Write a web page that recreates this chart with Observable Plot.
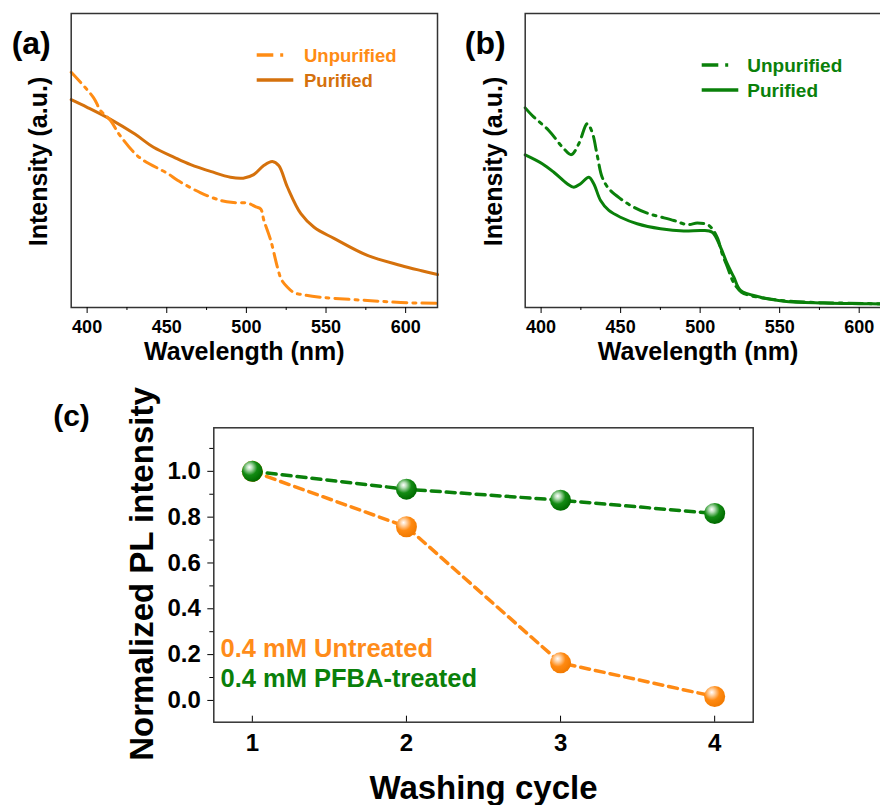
<!DOCTYPE html>
<html><head><meta charset="utf-8">
<script src="https://cdn.jsdelivr.net/npm/d3@7"></script>
<script src="https://cdn.jsdelivr.net/npm/@observablehq/plot@0.6"></script>
<style>
html,body{margin:0;padding:0;background:#fff;overflow:hidden;}
#wrap{position:relative;width:880px;height:805px;overflow:hidden;background:#fff;}
#wrap svg{position:absolute;}
</style></head><body><div id="wrap"></div>
<script>
// ---------- Panel (a) ----------
const aUnpurWl = [390,404,408.4,414.7,420,429.3,435.5,450.5,457,471,484,492,501,506,509,511,515.3,519.5,522,525.8,530,534,545,555,576,597,620];
const aUnpurI  = [0.800,0.714,0.670,0.636,0.590,0.528,0.500,0.456,0.432,0.391,0.364,0.357,0.355,0.342,0.335,0.296,0.228,0.137,0.095,0.069,0.050,0.045,0.036,0.031,0.024,0.017,0.014];
const aPurWl = [390,400,414.7,430,441.7,455,465,478,490,498,504.6,510.9,516.3,520.3,525.8,534.2,542.5,555,576,597,610,620];
const aPurI  = [0.707,0.681,0.640,0.590,0.545,0.510,0.486,0.462,0.443,0.440,0.452,0.483,0.497,0.483,0.409,0.319,0.273,0.235,0.177,0.143,0.125,0.112];
// ---------- Panel (b) ----------
const bUnpurWl = [390,394.4,404.8,414.3,419,423.7,429,432.1,435.3,438.4,442.6,449.9,458.3,466.7,483.5,491.9,498.2,504.5,507.6,511,514,517,521,526,532,546.2,567.4,590,620];
const bUnpurI  = [0.679,0.653,0.602,0.540,0.520,0.557,0.625,0.596,0.517,0.443,0.404,0.370,0.341,0.321,0.296,0.282,0.287,0.282,0.268,0.235,0.180,0.140,0.085,0.052,0.040,0.027,0.018,0.015,0.012];
const bPurWl = [390,400.7,408,416.4,420.6,424.8,430,433.1,437.4,442.6,449.9,460.4,475.1,489.7,501.3,507.6,512.8,517,521.2,525.4,538,552.6,577.8,600,620];
const bPurI  = [0.519,0.489,0.460,0.421,0.409,0.421,0.443,0.421,0.364,0.330,0.307,0.285,0.268,0.260,0.262,0.256,0.205,0.149,0.103,0.058,0.035,0.021,0.015,0.013,0.012];
const wlTicks = [400,450,500,550,600];
const wlMinor = [425,475,525,575];
// ---------- Panel (c) ----------
const cCycle = [1,2,3,4];
const cUntreated = [1.0,0.758,0.164,0.017];
const cTreated = [1.0,0.922,0.874,0.816];
const cYTicks = [0,0.2,0.4,0.6,0.8,1.0];
const cYMinor = [0.1,0.3,0.5,0.7,0.9,1.1];

const FONT = "'Liberation Sans', Arial, Helvetica, sans-serif";
const orangeLight = "#ff8c14", orangeDark = "#d5710c", green = "#0a800a";
const wrap = document.getElementById("wrap");
const zip = (xs, ys) => xs.map((x, i) => ({x, y: ys[i]}));
const baseStyle = {fontFamily: FONT, fontWeight: "bold", color: "#000", background: "transparent", overflow: "visible"};
const label = (s, o) => Plot.text([s], {text: d => d, textAnchor: "middle", lineAnchor: "middle", fontWeight: "bold", ...o});

function spectrum({left, width, marginLeft, marginRight, unpur, pur, colUnpur, colPur, tag, ylabDx}) {
  const svg = Plot.plot({
    width, height: 370,
    marginLeft, marginRight, marginTop: 13, marginBottom: 63,
    x: {domain: [390, 620]},
    y: {domain: [0, 1], axis: null},
    style: baseStyle,
    marks: [
      Plot.line(pur, {x: "x", y: "y", stroke: colPur, strokeWidth: 3, curve: "catmull-rom"}),
      Plot.line(unpur, {x: "x", y: "y", stroke: colUnpur, strokeWidth: 3, strokeDasharray: "14,6,3,6", curve: "catmull-rom"}),
      Plot.frame({stroke: "#333", strokeWidth: 1.5}),
      Plot.axisX({ticks: wlTicks, tickSize: 6, tickPadding: 7.2, fontSize: 18, label: null}),
      Plot.axisX({ticks: wlMinor, tickSize: 3, tickFormat: () => "", label: null}),
      label("Wavelength (nm)", {frameAnchor: "bottom", dx: -10, dy: 44.8, fontSize: 25}),
      label("Intensity (a.u.)", {frameAnchor: "left", dx: ylabDx, dy: 1, rotate: -90, fontSize: 25}),
      label(tag, {frameAnchor: "top-left", dx: -40, dy: 30, fontSize: 32})
    ]
  });
  svg.style.left = left + "px";
  svg.style.top = "0px";
  wrap.appendChild(svg);
  return svg;
}

function addLegend(svg, {x0, y1, y2, x1Text, fs, colUnpur, colPur}) {
  const g = d3.select(svg).append("g");
  g.append("line").attr("x1", x0).attr("x2", x0 + 16.6).attr("y1", y1).attr("y2", y1)
    .attr("stroke", colUnpur).attr("stroke-width", 3.5);
  g.append("line").attr("x1", x0 + 23.5).attr("x2", x0 + 26.5).attr("y1", y1).attr("y2", y1)
    .attr("stroke", colUnpur).attr("stroke-width", 3.5);
  g.append("line").attr("x1", x0).attr("x2", x0 + 36.6).attr("y1", y2).attr("y2", y2)
    .attr("stroke", colPur).attr("stroke-width", 3.5);
  for (const [t, y, c] of [["Unpurified", y1, colUnpur], ["Purified", y2, colPur]]) {
    g.append("text").attr("x", x1Text).attr("y", y).attr("dy", "0.36em").attr("fill", c)
      .attr("text-anchor", "start").attr("font-size", fs).attr("font-weight", "bold")
      .attr("font-family", FONT).text(t);
  }
}

const svgA = spectrum({left: 0, width: 440, marginLeft: 70.7, marginRight: 3,
  unpur: zip(aUnpurWl, aUnpurI), pur: zip(aPurWl, aPurI), colUnpur: orangeLight, colPur: orangeDark, tag: "(a)", ylabDx: -31.7});
addLegend(svgA, {x0: 256.7, y1: 55, y2: 80, x1Text: 304, fs: 18.5, colUnpur: orangeLight, colPur: orangeDark});

const svgB = spectrum({left: 440, width: 455, marginLeft: 84.7, marginRight: 4.5,
  unpur: zip(bUnpurWl, bUnpurI), pur: zip(bPurWl, bPurI), colUnpur: green, colPur: green, tag: "(b)", ylabDx: -31.2});
addLegend(svgB, {x0: 261.7, y1: 65, y2: 90, x1Text: 307.3, fs: 19, colUnpur: green, colPur: green});

// ---------- Panel (c) plot ----------
const untreated = zip(cCycle, cUntreated);
const treated = zip(cCycle, cTreated);
const svgC = Plot.plot({
  width: 880, height: 425,
  marginLeft: 213.3, marginRight: 127.3, marginTop: 47.3, marginBottom: 83.3,
  x: {domain: [0.75, 4.25]},
  y: {domain: [-0.095, 1.19]},
  style: baseStyle,
  marks: [
    Plot.line(untreated, {x: "x", y: "y", stroke: "#ff8a14", strokeWidth: 3.5, strokeDasharray: "9,6"}),
    Plot.line(treated, {x: "x", y: "y", stroke: green, strokeWidth: 3.5, strokeDasharray: "9,6"}),
    Plot.dot(untreated, {x: "x", y: "y", r: 10.5, fill: "url(#sphereOrange)", stroke: "none"}),
    Plot.dot(treated, {x: "x", y: "y", r: 10.5, fill: "url(#sphereGreen)", stroke: "none"}),
    Plot.frame({stroke: "#333", strokeWidth: 1.5}),
    Plot.axisY({ticks: cYTicks, tickSize: 6, tickPadding: 7, fontSize: 24, tickFormat: d3.format(".1f"), label: null}),
    Plot.axisY({ticks: cYMinor, tickSize: 4, tickFormat: () => "", label: null}),
    Plot.axisX({ticks: cCycle, tickSize: 0, tickPadding: 11.3, fontSize: 24, tickFormat: d3.format("d"), label: null}),
    Plot.axisX({ticks: cCycle, tickSize: 6, dy: -6, tickFormat: () => "", label: null}),
    label("Washing cycle", {frameAnchor: "bottom", dy: 66.5, fontSize: 33}),
    label("Normalized PL intensity", {frameAnchor: "left", dx: -71, dy: -1, rotate: -90, fontSize: 33}),
    label("(c)", {frameAnchor: "top-left", dx: -142.3, dy: -11.3, fontSize: 30}),
    label("0.4 mM Untreated", {frameAnchor: "bottom-left", textAnchor: "start", dx: 6.7, dy: -73.7, fontSize: 25.5, fill: "#ff8c1a"}),
    label("0.4 mM PFBA-treated", {frameAnchor: "bottom-left", textAnchor: "start", dx: 6.7, dy: -43.7, fontSize: 25.5, fill: green})
  ]
});
d3.select(svgC).insert("defs", ":first-child").html(`
  <radialGradient id="sphereGreen" cx="0.38" cy="0.34" r="0.66" fx="0.36" fy="0.3">
    <stop offset="0" stop-color="#ffffff"/>
    <stop offset="0.2" stop-color="#b9dfb9"/>
    <stop offset="0.55" stop-color="#138b13"/>
    <stop offset="1" stop-color="#006a00"/>
  </radialGradient>
  <radialGradient id="sphereOrange" cx="0.38" cy="0.34" r="0.66" fx="0.36" fy="0.3">
    <stop offset="0" stop-color="#ffffff"/>
    <stop offset="0.2" stop-color="#ffd6ad"/>
    <stop offset="0.55" stop-color="#ff8a12"/>
    <stop offset="1" stop-color="#f27a00"/>
  </radialGradient>`);
svgC.style.left = "0px";
svgC.style.top = "380px";
wrap.appendChild(svgC);
</script></body></html>
